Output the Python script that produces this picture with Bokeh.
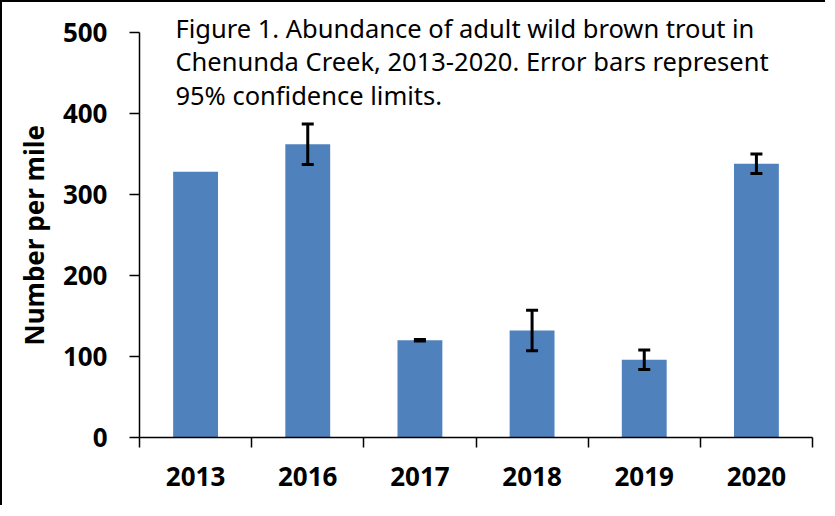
from bokeh.plotting import figure
from bokeh.models import Range1d, FixedTicker, ColumnDataSource, Whisker, TeeHead, Label, Title
from bokeh.embed import file_html
from bokeh.resources import INLINE
import math

# ---- data ----
years = ["2013", "2016", "2017", "2018", "2019", "2020"]
abundance = [328, 362, 120, 132, 96, 338]
ci_lower = [float("nan"), 337, 119, 107, 84, 326]
ci_upper = [float("nan"), 387, 121, 157, 108, 350]
y_ticks = [0, 100, 200, 300, 400, 500]
title_lines = [
    "Figure 1.  Abundance of adult wild brown trout in",
    "Chenunda Creek, 2013-2020.  Error bars represent",
    "95% confidence limits.",
]
y_label = "Number per mile"

BLUE = "#4F81BD"
W, H = 825, 505
Y_AXIS_MAX = 500
Y_VIEW_TOP = 537  # frame extends above the axis so the caption can sit inside it

xs = [i + 0.5 for i in range(len(years))]
src = ColumnDataSource(dict(x=xs, top=abundance, year=years))
wx, wl, wu = [], [], []
for x, lo, up in zip(xs, ci_lower, ci_upper):
    if not (math.isnan(lo) or math.isnan(up)):
        wx.append(x); wl.append(lo); wu.append(up)
wsrc = ColumnDataSource(dict(x=wx, lower=wl, upper=wu))

p = figure(width=W, height=H, output_backend="svg", toolbar_location=None,
           x_range=Range1d(0, len(years)), y_range=Range1d(0, Y_VIEW_TOP),
           min_border_left=137, min_border_right=15, min_border_top=0, min_border_bottom=70)
p.outline_line_color = None
p.xgrid.visible = False
p.ygrid.visible = False
p.background_fill_color = "white"
p.border_fill_color = "white"

p.vbar(x="x", top="top", width=0.4, bottom=0, source=src, color=BLUE, line_color=None)

wh = Whisker(base="x", lower="lower", upper="upper", source=wsrc, dimension="height",
             line_color="black", line_width=3, level="overlay",
             upper_head=TeeHead(size=12, line_width=3, line_color="black"),
             lower_head=TeeHead(size=12, line_width=3, line_color="black"))
p.add_layout(wh)

# x axis: labels at centres, tick marks at category boundaries
xa = p.xaxis[0]
xa.ticker = FixedTicker(ticks=xs, minor_ticks=list(range(len(years) + 1)))
xa.major_label_overrides = {x: y for x, y in zip(xs, years)}
xa.major_tick_out = 0
xa.major_tick_in = 0
xa.minor_tick_out = 10
xa.minor_tick_in = 0
xa.minor_tick_line_color = "black"
xa.minor_tick_line_width = 1.5
xa.axis_line_width = 1.5
xa.axis_line_color = "black"
xa.major_label_text_font = "Noto Sans"
xa.major_label_text_font_style = "bold"
xa.major_label_text_font_size = "26px"
xa.major_label_text_color = "black"
xa.major_label_standoff = 19

ya = p.yaxis[0]
ya.ticker = FixedTicker(ticks=y_ticks, minor_ticks=[])
ya.bounds = (0, Y_AXIS_MAX)
ya.major_tick_out = 10
ya.major_tick_in = 0
ya.major_tick_line_width = 1.5
ya.axis_line_width = 1.5
ya.axis_line_color = "black"
ya.major_label_text_font = "Noto Sans"
ya.major_label_text_font_style = "bold"
ya.major_label_text_font_size = "26px"
ya.major_label_text_color = "black"
ya.major_label_standoff = 22

ylab = Title(text=y_label, align="left", offset=92, standoff=16,
             text_font="Noto Sans", text_font_style="bold", text_font_size="26px",
             text_color="black")
p.add_layout(ylab, "left")

title_y = [505, 465, 422.5]
for txt, yy in zip(title_lines, title_y):
    p.add_layout(Label(x=0.32, y=yy, text=txt, text_font="Noto Sans", text_font_size="25.5px",
                       text_color="black", text_baseline="alphabetic", text_align="left"))

p.styles = {"border-left": "2px solid black", "border-top": "2px solid black"}

open("out.html", "w").write(file_html(p, INLINE))
